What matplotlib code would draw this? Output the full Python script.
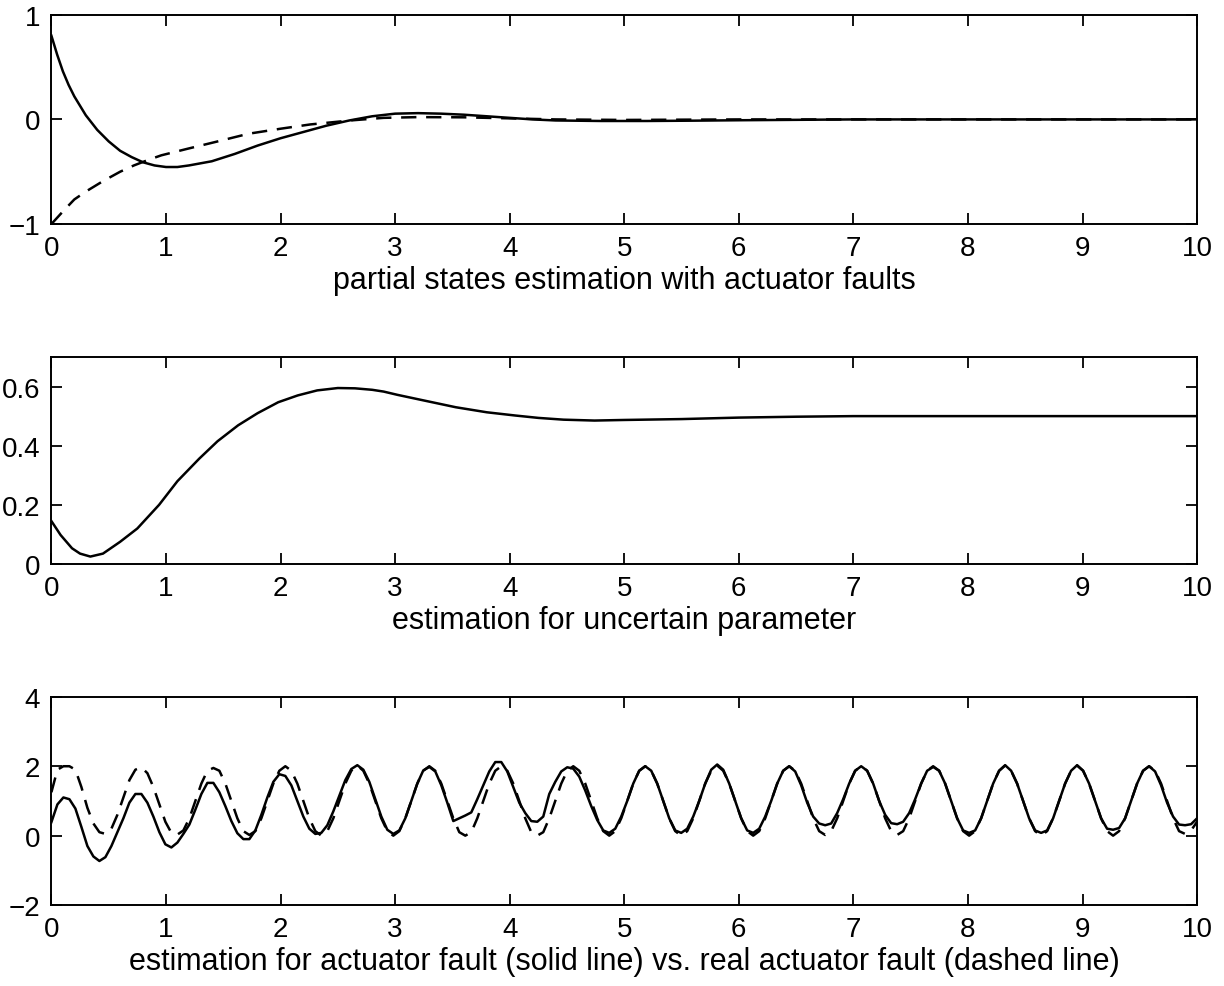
import numpy as np
import matplotlib
matplotlib.use('Agg')
import matplotlib.pyplot as plt

plt.rcParams['font.family'] = ['Liberation Sans', 'DejaVu Sans']
plt.rcParams['lines.scale_dashes'] = False

# panel 1: partial states
t1_solid = [0, 0.05, 0.1, 0.15, 0.2, 0.3, 0.4, 0.5, 0.6, 0.7, 0.8, 0.9, 1.0, 1.1, 1.2, 1.4,
            1.6, 1.8, 2.0, 2.2, 2.4, 2.6, 2.8, 3.0, 3.2, 3.4, 3.6, 3.8, 4.0, 4.2, 4.4, 4.8,
            5.2, 5.6, 6.0, 6.5, 7.0, 10.0]
x1_solid = [0.80, 0.62, 0.46, 0.33, 0.22, 0.04, -0.10, -0.21, -0.30, -0.36, -0.41, -0.44,
            -0.455, -0.455, -0.44, -0.40, -0.33, -0.25, -0.18, -0.12, -0.06, -0.01, 0.03,
            0.055, 0.06, 0.055, 0.045, 0.03, 0.015, 0.0, -0.01, -0.015, -0.015, -0.012,
            -0.008, -0.004, 0.0, 0.0]
t1_dash = [0, 0.05, 0.1, 0.2, 0.3, 0.45, 0.6, 0.72, 0.85, 0.96, 1.19, 1.43, 1.72, 2.0,
           2.26, 2.61, 2.9, 3.2, 3.6, 4.0, 4.4, 5.0, 6.0, 10.0]
x1_dash = [-1.0, -0.94, -0.88, -0.765, -0.69, -0.59, -0.50, -0.44, -0.385, -0.343, -0.28,
           -0.216, -0.137, -0.089, -0.048, -0.01, 0.015, 0.022, 0.02, 0.01, 0.0, -0.005,
           0.0, 0.0]

# panel 2: uncertain parameter
t2 = [0, 0.08, 0.18, 0.25, 0.34, 0.45, 0.6, 0.75, 0.94, 1.1, 1.29, 1.45, 1.63, 1.8, 1.98,
      2.15, 2.32, 2.5, 2.65, 2.8, 2.9, 3.02, 3.25, 3.53, 3.8, 4.05, 4.25, 4.47, 4.74, 5.0,
      5.5, 6.0, 6.5, 7.0, 10.0]
theta = [0.145, 0.098, 0.053, 0.035, 0.025, 0.035, 0.075, 0.12, 0.20, 0.28, 0.356, 0.415,
         0.469, 0.51, 0.547, 0.57, 0.587, 0.595, 0.594, 0.589, 0.583, 0.572, 0.553, 0.53,
         0.513, 0.502, 0.494, 0.488, 0.485, 0.487, 0.49, 0.495, 0.498, 0.5, 0.5]

# panel 3: actuator fault, 192 samples over [0, 10]
fault_est = [
    0.39, 0.9, 1.1, 1.05, 0.78, 0.25, -0.3, -0.6, -0.73, -0.62, -0.3, 0.1,
    0.5, 0.95, 1.2, 1.2, 0.95, 0.55, 0.1, -0.25, -0.34, -0.2, 0.05, 0.32,
    0.75, 1.2, 1.52, 1.52, 1.25, 0.85, 0.42, 0.07, -0.1, -0.1, 0.15, 0.6,
    1.1, 1.55, 1.77, 1.72, 1.45, 1.0, 0.55, 0.2, 0.05, 0.08, 0.3, 0.7,
    1.15, 1.6, 1.92, 2.03, 1.9, 1.55, 1.05, 0.55, 0.17, 0.05, 0.15, 0.5,
    1.0, 1.5, 1.88, 1.98, 1.85, 1.45, 0.95, 0.42, 0.5, 0.58, 0.67, 1.05,
    1.45, 1.85, 2.12, 2.12, 1.85, 1.4, 0.95, 0.65, 0.42, 0.4, 0.55, 1.2,
    1.55, 1.85, 1.97, 1.93, 1.7, 1.3, 0.85, 0.45, 0.15, 0.08, 0.2, 0.55,
    1.0, 1.5, 1.87, 2.0, 1.87, 1.5, 1.0, 0.5, 0.15, 0.08, 0.2, 0.55,
    1.0, 1.5, 1.9, 2.05, 1.9, 1.5, 1.0, 0.5, 0.15, 0.08, 0.2, 0.55,
    1.0, 1.5, 1.87, 2.0, 1.85, 1.45, 0.95, 0.55, 0.35, 0.3, 0.35, 0.65,
    1.05, 1.5, 1.87, 2.0, 1.87, 1.5, 1.0, 0.6, 0.36, 0.33, 0.4, 0.65,
    1.05, 1.5, 1.87, 1.98, 1.87, 1.5, 1.0, 0.5, 0.15, 0.08, 0.15, 0.5,
    1.0, 1.5, 1.87, 2.03, 1.87, 1.5, 1.0, 0.5, 0.15, 0.08, 0.15, 0.5,
    1.0, 1.5, 1.87, 2.03, 1.87, 1.5, 1.0, 0.5, 0.2, 0.17, 0.22, 0.5,
    1.0, 1.5, 1.87, 2.0, 1.85, 1.45, 0.95, 0.55, 0.32, 0.3, 0.33, 0.5,
]
fault_real = [
    1.25, 1.9, 2.0, 2.0, 1.9, 1.4, 0.8, 0.35, 0.1, 0.05, 0.2, 0.6,
    1.1, 1.6, 1.9, 1.97, 1.8, 1.4, 0.9, 0.4, 0.08, 0.03, 0.15, 0.5,
    1.0, 1.5, 1.87, 1.95, 1.87, 1.5, 1.0, 0.5, 0.13, 0.02, 0.13, 0.5,
    1.0, 1.5, 1.87, 2.0, 1.87, 1.5, 1.0, 0.5, 0.13, 0.0, 0.13, 0.5,
    1.0, 1.5, 1.87, 2.02, 1.87, 1.5, 1.0, 0.5, 0.13, 0.0, 0.13, 0.5,
    1.0, 1.5, 1.87, 2.0, 1.87, 1.5, 1.0, 0.5, 0.1, 0.0, 0.1, 0.5,
    1.0, 1.5, 1.87, 2.0, 1.87, 1.5, 1.0, 0.5, 0.1, 0.0, 0.1, 0.5,
    1.0, 1.5, 1.87, 2.0, 1.87, 1.5, 1.0, 0.5, 0.13, 0.0, 0.13, 0.5,
    1.0, 1.5, 1.87, 2.0, 1.87, 1.5, 1.0, 0.5, 0.13, 0.0, 0.13, 0.5,
    1.0, 1.5, 1.87, 2.02, 1.87, 1.5, 1.0, 0.5, 0.13, 0.0, 0.13, 0.5,
    1.0, 1.5, 1.87, 2.0, 1.87, 1.5, 1.0, 0.5, 0.13, 0.02, 0.13, 0.5,
    1.0, 1.5, 1.87, 2.0, 1.87, 1.5, 1.0, 0.5, 0.13, 0.02, 0.13, 0.5,
    1.0, 1.5, 1.87, 2.0, 1.87, 1.5, 1.0, 0.5, 0.13, 0.0, 0.13, 0.5,
    1.0, 1.5, 1.87, 2.02, 1.87, 1.5, 1.0, 0.5, 0.13, 0.0, 0.13, 0.5,
    1.0, 1.5, 1.87, 2.02, 1.87, 1.5, 1.0, 0.5, 0.13, 0.0, 0.13, 0.5,
    1.0, 1.5, 1.87, 2.0, 1.87, 1.5, 1.0, 0.5, 0.13, 0.05, 0.15, 0.4,
]
t3 = np.linspace(0, 10, len(fault_est))

xlabels = ['partial states estimation with actuator faults',
           'estimation for uncertain parameter',
           'estimation for actuator fault (solid line) vs. real actuator fault (dashed line)']

fig = plt.figure(figsize=(12.24, 9.87), dpi=100)
ax1 = fig.add_axes([0.042, 0.772, 0.936, 0.212])
ax2 = fig.add_axes([0.042, 0.4276, 0.936, 0.2097])
ax3 = fig.add_axes([0.042, 0.082, 0.936, 0.211])

lw = 1.8
dash = (11, 7)
ax1.plot(t1_dash, x1_dash, color='black', lw=lw, dashes=dash)
ax1.plot(t1_solid, x1_solid, color='black', lw=lw)
ax2.plot(t2, theta, color='black', lw=lw)
ax3.plot(t3, fault_real, color='black', lw=lw, dashes=dash)
ax3.plot(t3, fault_est, color='black', lw=lw)

ax1.set_ylim(-1, 1)
ax1.set_yticks([-1, 0, 1])
ax2.set_ylim(0, 0.7)
ax2.set_yticks([0, 0.2, 0.4, 0.6])
ax2.set_yticklabels(['0', '0.2', '0.4', '0.6'])
ax3.set_ylim(-2, 4)
ax3.set_yticks([-2, 0, 2, 4])

for ax, lab in zip([ax1, ax2, ax3], xlabels):
    ax.set_xlim(0, 10)
    ax.set_xticks(range(11))
    ax.tick_params(direction='in', top=True, right=True, length=8, width=1.3,
                   labelsize=20, pad=8)
    for s in ax.spines.values():
        s.set_linewidth(1.4)
    ax.set_xlabel(lab, fontsize=22, labelpad=3)

fig.savefig('out.png', dpi=100)
